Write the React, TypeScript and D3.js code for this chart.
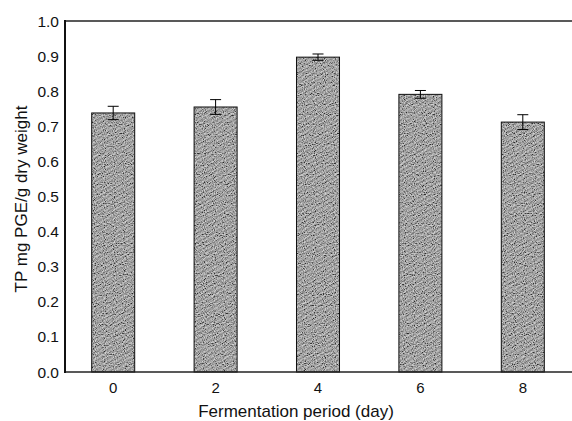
import React from "react";
import * as d3 from "d3";

const days = ["0", "2", "4", "6", "8"];
const tpValues = [0.738, 0.755, 0.897, 0.791, 0.712];
const tpErrors = [0.019, 0.021, 0.009, 0.011, 0.021];
const yTicks = [0.0, 0.1, 0.2, 0.3, 0.4, 0.5, 0.6, 0.7, 0.8, 0.9, 1.0];

const W = 572, H = 421;
const left = 65, right = 572, top = 21, bottom = 372;

export default function App() {
  const x = d3.scaleBand<string>().domain(days).range([62, 574]).paddingInner(0.58).paddingOuter(0.29);
  const y = d3.scaleLinear().domain([0, 1]).range([bottom, top]);
  const font = "'Liberation Sans', Arial, sans-serif";
  return (
    <svg width={W} height={H} style={{ position: "absolute", left: 0, top: 0, background: "#fff" }}>
      <defs>
        <pattern id="tex" width="4" height="4" patternUnits="userSpaceOnUse" patternTransform="rotate(60)">
          <rect width="4" height="4" fill="#8c8c8c" />
          <rect width="1.2" height="4" fill="#555" />
          <rect x="2.4" width="0.8" height="4" fill="#b8b8b8" />
        </pattern>
        <filter id="noise" x="0" y="0" width="100%" height="100%">
          <feTurbulence type="fractalNoise" baseFrequency="0.9" numOctaves="1" seed="7" result="t" />
          <feColorMatrix in="t" type="matrix" values="2.4 0 0 0 -0.7  2.4 0 0 0 -0.7  2.4 0 0 0 -0.7  0 0 0 0 1" result="g" />
          <feComposite in="g" in2="SourceGraphic" operator="in" />
        </filter>
      </defs>
      {days.map((d, i) => {
        const x0 = x(d)!;
        const bw = x.bandwidth();
        const cx = x0 + bw / 2;
        const v = tpValues[i];
        const e = tpErrors[i];
        return (
          <g key={d}>
            <rect x={x0} y={y(v)} width={bw} height={y(0) - y(v)} fill="url(#tex)" />
            <rect x={x0} y={y(v)} width={bw} height={y(0) - y(v)} fill="#888" filter="url(#noise)" opacity={0.55} />
            <rect x={x0} y={y(v)} width={bw} height={y(0) - y(v)} fill="none" stroke="#111" strokeWidth={1} />
            <line x1={cx} x2={cx} y1={y(v + e)} y2={y(v - e)} stroke="#000" strokeWidth={1} />
            <line x1={cx - 5.5} x2={cx + 5.5} y1={y(v + e)} y2={y(v + e)} stroke="#000" strokeWidth={1} />
            <line x1={cx - 5.5} x2={cx + 5.5} y1={y(v - e)} y2={y(v - e)} stroke="#000" strokeWidth={1} />
            <text x={cx} y={393} textAnchor="middle" fontFamily={font} fontSize={15} fill="#111">{d}</text>
          </g>
        );
      })}
      <line x1={left} x2={right} y1={top} y2={top} stroke="#222" strokeWidth={1.5} />
      <line x1={left} x2={right} y1={bottom} y2={bottom} stroke="#222" strokeWidth={1.5} />
      <line x1={left} x2={left} y1={top - 1} y2={bottom + 1} stroke="#111" strokeWidth={2} />
      {yTicks.map(t => (
        <text key={t} x={59} y={y(t) + 5.5} textAnchor="end" fontFamily={font} fontSize={15.5} fill="#111">{t.toFixed(1)}</text>
      ))}
      <text x={296} y={417} textAnchor="middle" fontFamily={font} fontSize={17} fill="#111">Fermentation period (day)</text>
      <text transform={`translate(27,${199}) rotate(-90)`} textAnchor="middle" fontFamily={font} fontSize={17} fill="#111">TP mg PGE/g dry weight</text>
    </svg>
  );
}
